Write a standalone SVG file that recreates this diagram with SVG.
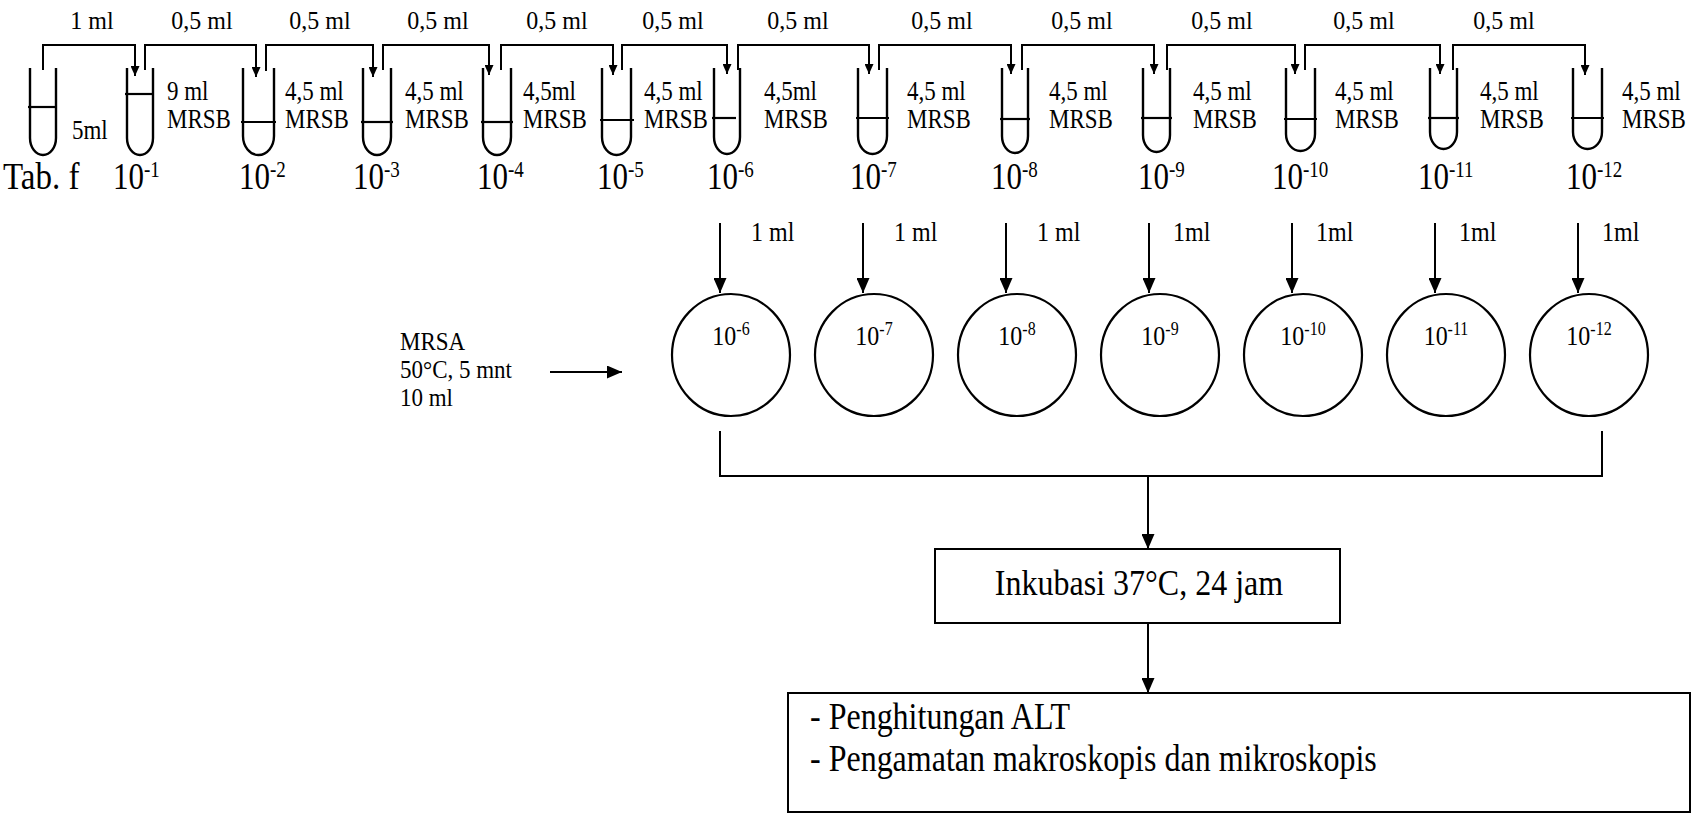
<svg xmlns="http://www.w3.org/2000/svg" width="1692" height="814" viewBox="0 0 1692 814" font-family="'Liberation Serif', 'Times New Roman', serif">
<style>
text, tspan{font-family:"Liberation Serif","Times New Roman",serif;fill:#000}
.tube{fill:none;stroke:#000;stroke-width:2.4}
.liq{stroke:#000;stroke-width:2.2}
.ln{fill:none;stroke:#000;stroke-width:2}
.vol{font-family:"Liberation Serif",serif;font-size:24px}
.tl{font-family:"Liberation Serif",serif;font-size:23px}
.dil{font-family:"Liberation Serif",serif;font-size:31px}
.tab{font-family:"Liberation Serif",serif;font-size:33px}
.sup{font-size:19px}
.c{fill:none;stroke:#000;stroke-width:2.2}
.cl{font-family:"Liberation Serif",serif;font-size:24px}
.csup{font-size:16px}
.mr{font-family:"Liberation Serif",serif;font-size:23px}
.al{font-family:"Liberation Serif",serif;font-size:24px}
.box{fill:none;stroke:#000;stroke-width:2}
.bt{font-family:"Liberation Serif",serif;font-size:32px}
</style>
<defs>
<marker id="as" viewBox="0 0 10 9" markerWidth="10" markerHeight="9" refX="10" refY="4.5" orient="auto" markerUnits="userSpaceOnUse"><path d="M0,0 L10,4.5 L0,9 z"/></marker>
<marker id="ahl" viewBox="0 0 15 13" markerWidth="15" markerHeight="13" refX="15" refY="6.5" orient="auto" markerUnits="userSpaceOnUse"><path d="M0,0 L15,6.5 L0,13 z"/></marker>
</defs>
<rect width="1692" height="814" fill="#fff"/>

<!-- tubes -->
<g id="tube-tabf"><path class="tube" d="M30,68 V138 A13 17 0 0 0 56,138 V68"/><line class="liq" x1="28" y1="107" x2="57" y2="107"/><text class="tl" transform="translate(72,139) scale(1,1.15)">5ml</text>
<text class="tab" transform="translate(3,189) scale(1,1.15)">Tab. f</text></g>
<g id="tube-1"><path class="tube" d="M127,68 V138 A13 17 0 0 0 153,138 V68"/><line class="liq" x1="125" y1="94" x2="154" y2="94"/><text class="tl" transform="translate(167,100) scale(1,1.15)">9 ml</text><text class="tl" transform="translate(167,128) scale(1,1.15)">MRSB</text>
<text class="dil" transform="translate(113,189) scale(1,1.2)">10<tspan class="sup" dy="-10">-1</tspan></text></g>
<g id="tube-2"><path class="tube" d="M243,68 V136 A15.5 19 0 0 0 274,136 V68"/><line class="liq" x1="241" y1="122" x2="276" y2="122"/><text class="tl" transform="translate(285,100) scale(1,1.15)">4,5 ml</text><text class="tl" transform="translate(285,128) scale(1,1.15)">MRSB</text>
<text class="dil" transform="translate(239,189) scale(1,1.2)">10<tspan class="sup" dy="-10">-2</tspan></text></g>
<g id="tube-3"><path class="tube" d="M363,68 V137 A14 18 0 0 0 391,137 V68"/><line class="liq" x1="361" y1="122" x2="393" y2="122"/><text class="tl" transform="translate(405,100) scale(1,1.15)">4,5 ml</text><text class="tl" transform="translate(405,128) scale(1,1.15)">MRSB</text>
<text class="dil" transform="translate(353,189) scale(1,1.2)">10<tspan class="sup" dy="-10">-3</tspan></text></g>
<g id="tube-4"><path class="tube" d="M483,68 V137 A14 18 0 0 0 511,137 V68"/><line class="liq" x1="481" y1="122" x2="513" y2="122"/><text class="tl" transform="translate(523,100) scale(1,1.15)">4,5ml</text><text class="tl" transform="translate(523,128) scale(1,1.15)">MRSB</text>
<text class="dil" transform="translate(477,189) scale(1,1.2)">10<tspan class="sup" dy="-10">-4</tspan></text></g>
<g id="tube-5"><path class="tube" d="M602,68 V137 A14.5 18 0 0 0 631,137 V68"/><line class="liq" x1="600" y1="120" x2="634" y2="120"/><text class="tl" transform="translate(644,100) scale(1,1.15)">4,5 ml</text><text class="tl" transform="translate(644,128) scale(1,1.15)">MRSB</text>
<text class="dil" transform="translate(597,189) scale(1,1.2)">10<tspan class="sup" dy="-10">-5</tspan></text></g>
<g id="tube-6"><path class="tube" d="M714,68 V137 A13 17 0 0 0 740,137 V68"/><line class="liq" x1="712" y1="118" x2="736" y2="118"/><text class="tl" transform="translate(764,100) scale(1,1.15)">4,5ml</text><text class="tl" transform="translate(764,128) scale(1,1.15)">MRSB</text>
<text class="dil" transform="translate(707,189) scale(1,1.2)">10<tspan class="sup" dy="-10">-6</tspan></text></g>
<g id="tube-7"><path class="tube" d="M858,68 V136 A14.5 18 0 0 0 887,136 V68"/><line class="liq" x1="856" y1="118" x2="889" y2="118"/><text class="tl" transform="translate(907,100) scale(1,1.15)">4,5 ml</text><text class="tl" transform="translate(907,128) scale(1,1.15)">MRSB</text>
<text class="dil" transform="translate(850,189) scale(1,1.2)">10<tspan class="sup" dy="-10">-7</tspan></text></g>
<g id="tube-8"><path class="tube" d="M1002,68 V136 A13 17 0 0 0 1028,136 V68"/><line class="liq" x1="1000" y1="119" x2="1030" y2="119"/><text class="tl" transform="translate(1049,100) scale(1,1.15)">4,5 ml</text><text class="tl" transform="translate(1049,128) scale(1,1.15)">MRSB</text>
<text class="dil" transform="translate(991,189) scale(1,1.2)">10<tspan class="sup" dy="-10">-8</tspan></text></g>
<g id="tube-9"><path class="tube" d="M1143,68 V135 A13.5 17 0 0 0 1170,135 V68"/><line class="liq" x1="1141" y1="118" x2="1172" y2="118"/><text class="tl" transform="translate(1193,100) scale(1,1.15)">4,5 ml</text><text class="tl" transform="translate(1193,128) scale(1,1.15)">MRSB</text>
<text class="dil" transform="translate(1138,189) scale(1,1.2)">10<tspan class="sup" dy="-10">-9</tspan></text></g>
<g id="tube-10"><path class="tube" d="M1286,68 V134 A14.5 17 0 0 0 1315,134 V68"/><line class="liq" x1="1284" y1="119" x2="1317" y2="119"/><text class="tl" transform="translate(1335,100) scale(1,1.15)">4,5 ml</text><text class="tl" transform="translate(1335,128) scale(1,1.15)">MRSB</text>
<text class="dil" transform="translate(1272,189) scale(1,1.2)">10<tspan class="sup" dy="-10">-10</tspan></text></g>
<g id="tube-11"><path class="tube" d="M1430,68 V132 A13.5 17 0 0 0 1457,132 V68"/><line class="liq" x1="1428" y1="118" x2="1459" y2="118"/><text class="tl" transform="translate(1480,100) scale(1,1.15)">4,5 ml</text><text class="tl" transform="translate(1480,128) scale(1,1.15)">MRSB</text>
<text class="dil" transform="translate(1418,189) scale(1,1.2)">10<tspan class="sup" dy="-10">-11</tspan></text></g>
<g id="tube-12"><path class="tube" d="M1573,68 V132 A14.5 17 0 0 0 1602,132 V68"/><line class="liq" x1="1571" y1="118" x2="1604" y2="118"/><text class="tl" transform="translate(1622,100) scale(1,1.15)">4,5 ml</text><text class="tl" transform="translate(1622,128) scale(1,1.15)">MRSB</text>
<text class="dil" transform="translate(1566,189) scale(1,1.2)">10<tspan class="sup" dy="-10">-12</tspan></text></g>

<!-- plates -->
<g id="plate-6"><ellipse class="c" cx="731" cy="355" rx="59" ry="61"/><text class="cl" text-anchor="middle" transform="translate(731,345) scale(1,1.15)">10<tspan class="csup" dy="-9">-6</tspan></text></g>
<g id="plate-7"><ellipse class="c" cx="874" cy="355" rx="59" ry="61"/><text class="cl" text-anchor="middle" transform="translate(874,345) scale(1,1.15)">10<tspan class="csup" dy="-9">-7</tspan></text></g>
<g id="plate-8"><ellipse class="c" cx="1017" cy="355" rx="59" ry="61"/><text class="cl" text-anchor="middle" transform="translate(1017,345) scale(1,1.15)">10<tspan class="csup" dy="-9">-8</tspan></text></g>
<g id="plate-9"><ellipse class="c" cx="1160" cy="355" rx="59" ry="61"/><text class="cl" text-anchor="middle" transform="translate(1160,345) scale(1,1.15)">10<tspan class="csup" dy="-9">-9</tspan></text></g>
<g id="plate-10"><ellipse class="c" cx="1303" cy="355" rx="59" ry="61"/><text class="cl" text-anchor="middle" transform="translate(1303,345) scale(1,1.15)">10<tspan class="csup" dy="-9">-10</tspan></text></g>
<g id="plate-11"><ellipse class="c" cx="1446" cy="355" rx="59" ry="61"/><text class="cl" text-anchor="middle" transform="translate(1446,345) scale(1,1.15)">10<tspan class="csup" dy="-9">-11</tspan></text></g>
<g id="plate-12"><ellipse class="c" cx="1589" cy="355" rx="59" ry="61"/><text class="cl" text-anchor="middle" transform="translate(1589,345) scale(1,1.15)">10<tspan class="csup" dy="-9">-12</tspan></text></g>

<!-- MRSA medium -->
<g id="mrsa"><text class="mr" transform="translate(400,350) scale(1,1.1)">MRSA</text><text class="mr" transform="translate(400,378) scale(1,1.1)">50°C, 5 mnt</text><text class="mr" transform="translate(400,406) scale(1,1.1)">10 ml</text></g>

<!-- incubation -->
<g id="inkubasi"><rect class="box" x="935" y="549" width="405" height="74"/><text class="bt" text-anchor="middle" transform="translate(1139,595) scale(1,1.12)">Inkubasi 37°C, 24 jam</text></g>

<!-- results -->
<g id="hasil"><rect class="box" x="788" y="693" width="902" height="119"/><text class="bt" transform="translate(810,729) scale(1,1.18)">- Penghitungan ALT</text><text class="bt" transform="translate(810,771) scale(1,1.18)">- Pengamatan makroskopis dan mikroskopis</text></g>

<!-- connectors -->
<g id="connectors">
<path class="ln" marker-end="url(#as)" d="M43,70 V45 H135 V76"/>
<path class="ln" marker-end="url(#as)" d="M145,70 V45 H256 V77"/>
<path class="ln" marker-end="url(#as)" d="M266,71 V45 H373 V77"/>
<path class="ln" marker-end="url(#as)" d="M383,70 V45 H489 V75"/>
<path class="ln" marker-end="url(#as)" d="M501,70 V45 H613 V75"/>
<path class="ln" marker-end="url(#as)" d="M622,70 V45 H727 V74"/>
<path class="ln" marker-end="url(#as)" d="M738,70 V45 H869 V74"/>
<path class="ln" marker-end="url(#as)" d="M879,70 V45 H1011 V74"/>
<path class="ln" marker-end="url(#as)" d="M1022,70 V45 H1154 V74"/>
<path class="ln" marker-end="url(#as)" d="M1167,70 V45 H1295 V74"/>
<path class="ln" marker-end="url(#as)" d="M1305,70 V45 H1440 V74"/>
<path class="ln" marker-end="url(#as)" d="M1453,70 V45 H1585 V75"/>
<g class="vol" text-anchor="middle">
<text transform="translate(92,29) scale(1,1.08)">1 ml</text><text transform="translate(202,29) scale(1,1.08)">0,5 ml</text><text transform="translate(320,29) scale(1,1.08)">0,5 ml</text><text transform="translate(438,29) scale(1,1.08)">0,5 ml</text>
<text transform="translate(557,29) scale(1,1.08)">0,5 ml</text><text transform="translate(673,29) scale(1,1.08)">0,5 ml</text><text transform="translate(798,29) scale(1,1.08)">0,5 ml</text><text transform="translate(942,29) scale(1,1.08)">0,5 ml</text>
<text transform="translate(1082,29) scale(1,1.08)">0,5 ml</text><text transform="translate(1222,29) scale(1,1.08)">0,5 ml</text><text transform="translate(1364,29) scale(1,1.08)">0,5 ml</text><text transform="translate(1504,29) scale(1,1.08)">0,5 ml</text>
</g>
<path class="ln" marker-end="url(#ahl)" d="M720,223 V293"/>
<path class="ln" marker-end="url(#ahl)" d="M863,223 V293"/>
<path class="ln" marker-end="url(#ahl)" d="M1006,223 V293"/>
<path class="ln" marker-end="url(#ahl)" d="M1149,223 V293"/>
<path class="ln" marker-end="url(#ahl)" d="M1292,223 V293"/>
<path class="ln" marker-end="url(#ahl)" d="M1435,223 V293"/>
<path class="ln" marker-end="url(#ahl)" d="M1578,223 V293"/>
<g class="al">
<text transform="translate(751,241) scale(1,1.15)">1 ml</text><text transform="translate(894,241) scale(1,1.15)">1 ml</text><text transform="translate(1037,241) scale(1,1.15)">1 ml</text>
<text transform="translate(1173,241) scale(1,1.15)">1ml</text><text transform="translate(1316,241) scale(1,1.15)">1ml</text><text transform="translate(1459,241) scale(1,1.15)">1ml</text><text transform="translate(1602,241) scale(1,1.15)">1ml</text>
</g>
<path class="ln" marker-end="url(#ahl)" d="M550,372 H622"/>
<path class="ln" d="M720,431 V476 H1602 V431"/>
<path class="ln" marker-end="url(#ahl)" d="M1148,476 V549"/>
<path class="ln" marker-end="url(#ahl)" d="M1148,623 V693"/>
</g>
</svg>
